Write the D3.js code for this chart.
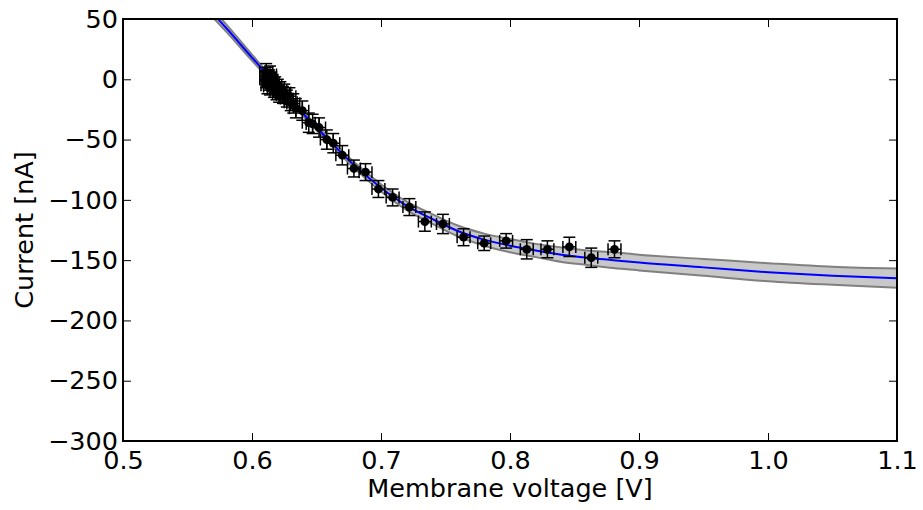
<!DOCTYPE html>
<html>
  <head>
    <meta charset="utf-8">
    <script src="https://cdn.jsdelivr.net/npm/d3@7"></script>
    <style>
      body { margin: 0; background: #fff; }
      text { font-family: "DejaVu Sans", sans-serif; }
    </style>
  </head>
  <body>
    <div id="chart"></div>
    <script>
// measured points (voltage in V, current in nA)
var voltage = [0.611, 0.612, 0.611, 0.613, 0.612, 0.614, 0.613, 0.615, 0.614, 0.616,
               0.617, 0.618, 0.619, 0.620, 0.621, 0.622, 0.624, 0.625, 0.627, 0.629,
               0.630, 0.632, 0.634, 0.639, 0.644, 0.647, 0.652, 0.658, 0.663, 0.670,
               0.679, 0.688, 0.698, 0.709, 0.722, 0.734, 0.748, 0.764, 0.780, 0.797,
               0.813, 0.829, 0.846, 0.863, 0.881];
var current = [6, 3, 0, -2, -5, 4, 1, -1, -6, -3,
               -8, -5, -10, -7, -12, -9, -13, -11, -16, -14,
               -19, -20, -24, -26, -36, -37, -40, -50, -53, -63,
               -74, -77, -91, -98, -106, -118, -120, -131, -136, -134,
               -141, -141, -139, -148, -141];
var currentErr = [7, 7, 7, 7, 7, 7, 7, 7, 7, 7,
                  7, 7, 7, 7, 7, 7, 7, 7, 7, 7,
                  7, 8, 8, 8, 8, 8, 8, 8, 8, 8,
                  7, 7, 7, 7, 7, 8, 8, 7, 6, 6,
                  8, 7, 8, 8, 7];
var voltageErr = 0.005;

// fitted curve and its band
var fitV =  [0.565, 0.58, 0.60, 0.62, 0.64, 0.66, 0.68, 0.70, 0.72, 0.74, 0.76,
             0.78, 0.80, 0.82, 0.84, 0.86, 0.88, 0.90, 0.95, 1.00, 1.05, 1.10];
var fitI =  [60, 42.5, 18, -6, -29, -51, -72, -90, -105, -116, -126,
             -133, -138, -142, -145.5, -148, -150, -152, -156, -160, -163, -165];
var fitLo = [56.5, 39.5, 15.5, -8, -31, -53, -74.5, -93, -108.5, -120, -130.5,
             -138, -143.5, -147.5, -151.5, -154, -156.5, -158.5, -163, -167.5, -170.5, -173];
var fitHi = [63.5, 45.5, 20.5, -4, -27, -49, -69.5, -87, -101.5, -112, -121.5,
             -128, -132.5, -136.5, -139.5, -142, -143.5, -145.5, -149, -152.5, -155.5, -157];

var xTicks = [0.5, 0.6, 0.7, 0.8, 0.9, 1.0, 1.1];
var yTicks = [50, 0, -50, -100, -150, -200, -250, -300];

var width = 923, height = 510;
var margin = {top: 19, right: 26, bottom: 69, left: 123};
var fontSize = 25.5;

var svg = d3.select("#chart").append("svg")
  .attr("width", width)
  .attr("height", height);

var x = d3.scaleLinear().domain([0.5, 1.1]).range([margin.left, width - margin.right]);
var y = d3.scaleLinear().domain([-300, 50]).range([height - margin.bottom, margin.top]);

svg.append("clipPath").attr("id", "plotclip")
  .append("rect")
  .attr("x", x(0.5)).attr("y", y(50))
  .attr("width", x(1.1) - x(0.5)).attr("height", y(-300) - y(50));

var plot = svg.append("g").attr("clip-path", "url(#plotclip)");

var band = fitV.map((v, i) => ({v: v, lo: fitLo[i], hi: fitHi[i], f: fitI[i]}));

plot.append("path")
  .datum(band)
  .attr("fill", "#c8c8c8")
  .attr("d", d3.area().curve(d3.curveMonotoneX)
    .x(d => x(d.v)).y0(d => y(d.lo)).y1(d => y(d.hi)));

["lo", "hi"].forEach(k => {
  plot.append("path")
    .datum(band)
    .attr("fill", "none")
    .attr("stroke", "#808080")
    .attr("stroke-width", 2)
    .attr("d", d3.line().curve(d3.curveMonotoneX).x(d => x(d.v)).y(d => y(d[k])));
});

plot.append("path")
  .datum(band)
  .attr("fill", "none")
  .attr("stroke", "#0000ff")
  .attr("stroke-width", 2)
  .attr("d", d3.line().curve(d3.curveMonotoneX).x(d => x(d.v)).y(d => y(d.f)));

// error bars + markers
var pts = voltage.map((v, i) => ({v: v, c: current[i], e: currentErr[i]}));
var cap = 6;
var eb = plot.append("g").attr("stroke", "#000").attr("stroke-width", 1.5);
pts.forEach(d => {
  var cx = x(d.v), cy = y(d.c);
  var y0 = y(d.c - d.e), y1 = y(d.c + d.e);
  var x0 = x(d.v - voltageErr), x1 = x(d.v + voltageErr);
  eb.append("line").attr("x1", cx).attr("x2", cx).attr("y1", y0).attr("y2", y1);
  eb.append("line").attr("x1", cx - cap).attr("x2", cx + cap).attr("y1", y0).attr("y2", y0);
  eb.append("line").attr("x1", cx - cap).attr("x2", cx + cap).attr("y1", y1).attr("y2", y1);
  eb.append("line").attr("x1", x0).attr("x2", x1).attr("y1", cy).attr("y2", cy);
  eb.append("line").attr("x1", x0).attr("x2", x0).attr("y1", cy - cap).attr("y2", cy + cap);
  eb.append("line").attr("x1", x1).attr("x2", x1).attr("y1", cy - cap).attr("y2", cy + cap);
});

plot.append("g")
  .selectAll("circle")
  .data(pts)
  .join("circle")
  .attr("cx", d => x(d.v))
  .attr("cy", d => y(d.c))
  .attr("r", 4.4)
  .attr("fill", "#000");

// axes, ticks pointing inward like matplotlib
function styleAxis(g) {
  g.select(".domain").remove();
  g.selectAll(".tick line").attr("stroke", "#000").attr("stroke-width", 1);
  g.selectAll(".tick text").attr("font-size", fontSize).attr("fill", "#000")
    .attr("font-family", "DejaVu Sans, sans-serif");
}

svg.append("g")
  .attr("transform", "translate(0," + y(-300) + ")")
  .call(d3.axisBottom(x).tickValues(xTicks).tickFormat(d3.format(".1f"))
    .tickSizeInner(-8).tickSizeOuter(0).tickPadding(10))
  .call(styleAxis)
  .call(g => g.selectAll(".tick text").attr("dy", "0.71em"));

svg.append("g")
  .attr("transform", "translate(0," + y(50) + ")")
  .call(d3.axisTop(x).tickValues(xTicks).tickFormat("")
    .tickSizeInner(-8).tickSizeOuter(0))
  .call(styleAxis);

svg.append("g")
  .attr("transform", "translate(" + x(0.5) + ",0)")
  .call(d3.axisLeft(y).tickValues(yTicks)
    .tickSizeInner(-8).tickSizeOuter(0).tickPadding(5))
  .call(styleAxis);

svg.append("g")
  .attr("transform", "translate(" + x(1.1) + ",0)")
  .call(d3.axisRight(y).tickValues(yTicks).tickFormat("")
    .tickSizeInner(-8).tickSizeOuter(0))
  .call(styleAxis);

// frame
svg.append("rect")
  .attr("x", x(0.5)).attr("y", y(50))
  .attr("width", x(1.1) - x(0.5)).attr("height", y(-300) - y(50))
  .attr("fill", "none")
  .attr("stroke", "#000")
  .attr("stroke-width", 2);

// axis labels
svg.append("text")
  .attr("x", (x(0.5) + x(1.1)) / 2)
  .attr("y", 497)
  .attr("text-anchor", "middle")
  .attr("font-size", fontSize)
  .text("Membrane voltage [V]");

svg.append("text")
  .attr("transform", "translate(33," + (y(50) + y(-300)) / 2 + ") rotate(-90)")
  .attr("text-anchor", "middle")
  .attr("font-size", fontSize)
  .text("Current [nA]");
    </script>
  </body>
</html>
